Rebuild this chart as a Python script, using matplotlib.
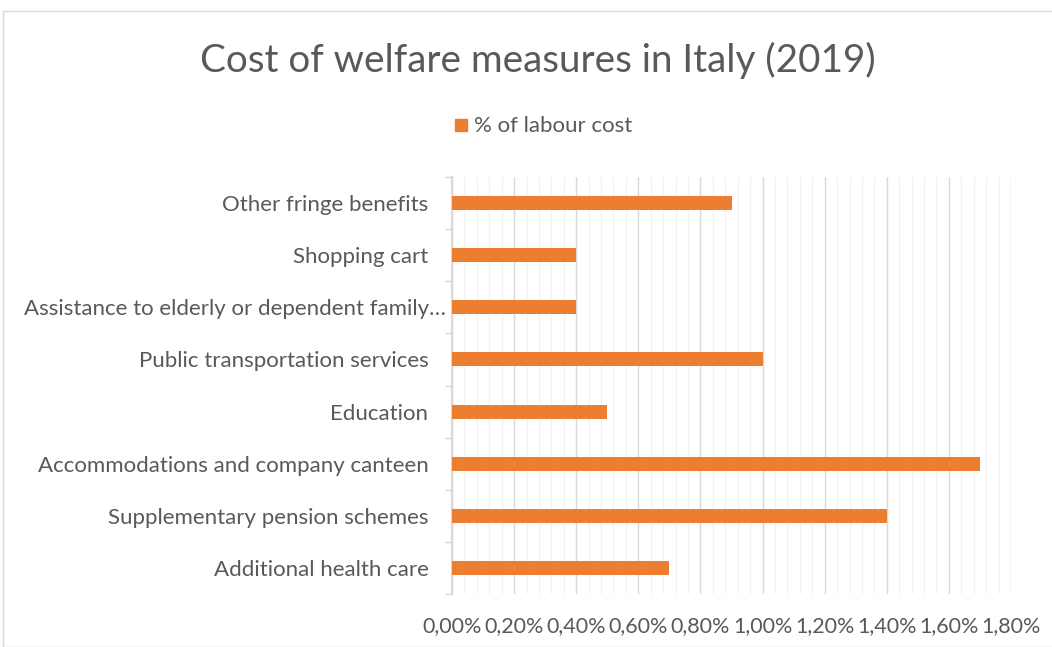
import matplotlib.pyplot as plt
import matplotlib.transforms as mtransforms
from matplotlib.ticker import MultipleLocator, FuncFormatter
from matplotlib.patches import Rectangle

categories = [
    "Additional health care",
    "Supplementary pension schemes",
    "Accommodations and company canteen",
    "Education",
    "Public transportation services",
    "Assistance to elderly or dependent family…",
    "Shopping cart",
    "Other fringe benefits",
]
labour_cost_pct = [0.7, 1.4, 1.7, 0.5, 1.0, 0.4, 0.4, 0.9]
series_name = "% of labour cost"
title = "Cost of welfare measures in Italy (2019)"

TEXT = "#595959"
BAR = "#ED7D31"
plt.rcParams["font.family"] = ["Lato", "DejaVu Sans"]

fig = plt.figure(figsize=(10.52, 6.47), dpi=100)
fig.patches.append(Rectangle((3 / 1052, 0), 1.2, 1 - 11 / 647, transform=fig.transFigure,
                             fill=False, edgecolor="#D9D9D9", linewidth=1.0))

ax = fig.add_axes([452 / 1052, 1 - 594 / 647, (1011 - 452) / 1052, (594 - 177) / 647])
y = range(len(categories))
ax.barh(y, labour_cost_pct, height=0.27, color=BAR, zorder=3)
ax.set_xlim(0, 1.8)
ax.set_ylim(-0.5, len(categories) - 0.5)

ax.xaxis.set_major_locator(MultipleLocator(0.2))
ax.xaxis.set_minor_locator(MultipleLocator(0.04))
ax.xaxis.set_major_formatter(FuncFormatter(lambda v, p: f"{v:.2f}%".replace(".", ",")))
ax.grid(axis="x", which="major", color="#D9D9D9", linewidth=1.0, zorder=0)
ax.grid(axis="x", which="minor", color="#F2F2F2", linewidth=1.0, zorder=0)
ax.tick_params(axis="x", which="both", length=0, labelsize=15.5, labelcolor=TEXT, pad=16)

ax.set_yticks(list(y))
ax.set_yticklabels(categories)
ax.set_yticks([i - 0.5 for i in range(len(categories) + 1)], minor=True)
ax.tick_params(axis="y", which="major", length=0, labelsize=16, labelcolor=TEXT, pad=17)
ax.tick_params(axis="y", which="minor", length=5, color="#D9D9D9", width=1.0)

# the truncated long label runs right up to the axis line
long_label = ax.get_yticklabels()[5]
long_label.set_transform(long_label.get_transform()
                         + mtransforms.ScaledTranslation(17 / 100, 0, fig.dpi_scale_trans))

for side in ("top", "right", "bottom"):
    ax.spines[side].set_visible(False)
ax.spines["left"].set_color("#D9D9D9")
ax.spines["left"].set_linewidth(1.5)

fig.text(538 / 1052, 1 - 60 / 647, title, ha="center", va="center", fontsize=27.8, color=TEXT)

fig.patches.append(Rectangle((455 / 1052, 1 - 131 / 647), 12 / 1052, 12 / 647,
                             transform=fig.transFigure, color=BAR))
fig.text(474 / 1052, 1 - 126 / 647, series_name, ha="left", va="center", fontsize=16, color=TEXT)

fig.savefig("out.png", dpi=100)
